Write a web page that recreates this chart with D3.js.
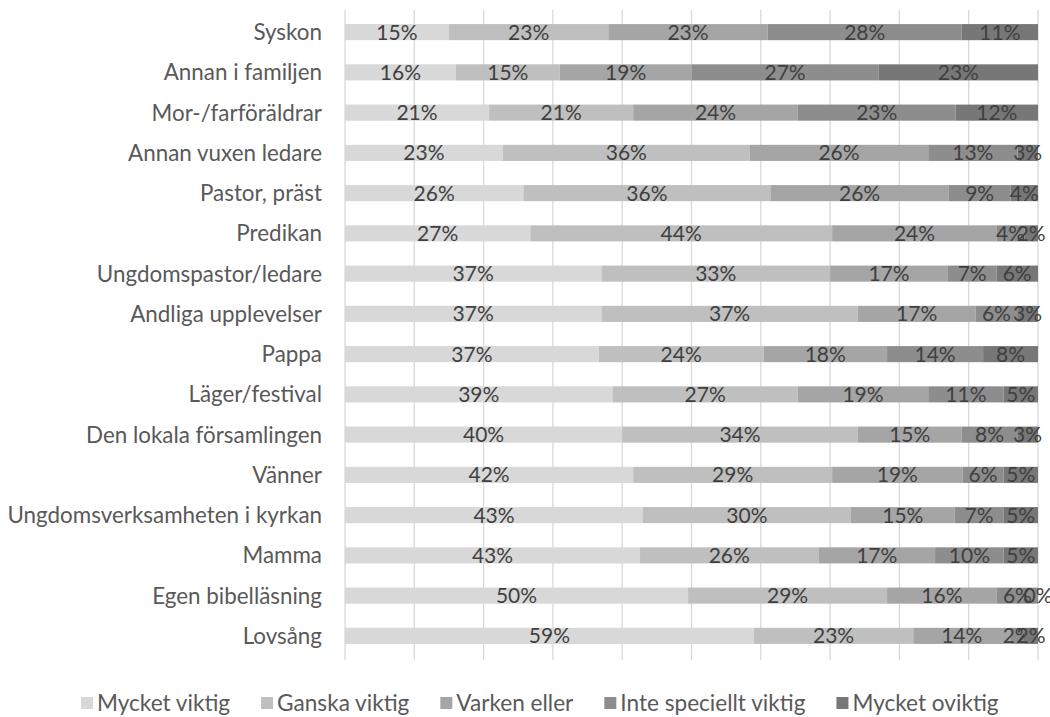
<!DOCTYPE html>
<html>
<head>
<meta charset="utf-8">
<script src="https://cdn.jsdelivr.net/npm/d3@7"></script>
<style>
  body { margin: 0; background: #fff; }
  text { font-family: Lato, "Open Sans", sans-serif; }
</style>
</head>
<body>
<div id="chart"></div>
<script>
// categories, top to bottom
const categories = [
  "Syskon", "Annan i familjen", "Mor-/farföräldrar", "Annan vuxen ledare",
  "Pastor, präst", "Predikan", "Ungdomspastor/ledare", "Andliga upplevelser",
  "Pappa", "Läger/festival", "Den lokala församlingen", "Vänner",
  "Ungdomsverksamheten i kyrkan", "Mamma", "Egen bibelläsning", "Lovsång"
];
const seriesNames = ["Mycket viktig", "Ganska viktig", "Varken eller", "Inte speciellt viktig", "Mycket oviktig"];

// percent values per series, same order as categories
const mycketViktig        = [15, 16, 21, 23, 26, 27, 37, 37, 37, 39, 40, 42, 43, 43, 50, 59];
const ganskaViktig        = [23, 15, 21, 36, 36, 44, 33, 37, 24, 27, 34, 29, 30, 26, 29, 23];
const varkenEller         = [23, 19, 24, 26, 26, 24, 17, 17, 18, 19, 15, 19, 15, 17, 16, 14];
const inteSpecielltViktig = [28, 27, 23, 13, 9, 4, 7, 6, 14, 11, 8, 6, 7, 10, 6, 2];
const mycketOviktig       = [11, 23, 12, 3, 4, 2, 6, 3, 8, 5, 3, 5, 5, 5, 0, 2];

const seriesValues = [mycketViktig, ganskaViktig, varkenEller, inteSpecielltViktig, mycketOviktig];
const colors = ["#d8d8d8", "#bfbfbf", "#a5a5a5", "#8d8d8d", "#777777"];

const width = 1050, height = 717;
const plot = { left: 345, right: 1038, top: 12, bottom: 656 };

const rows = categories.map((c, i) => {
  const r = { category: c };
  seriesNames.forEach((s, j) => r[s] = seriesValues[j][i]);
  return r;
});

const stacked = d3.stack().keys(seriesNames).offset(d3.stackOffsetExpand)(rows);

const x = d3.scaleLinear().domain([0, 1]).range([plot.left, plot.right]);
const y = d3.scaleBand().domain(categories).range([plot.top, plot.bottom])
  .paddingInner(0.6).paddingOuter(0.3);
const color = d3.scaleOrdinal().domain(seriesNames).range(colors);

const svg = d3.select("#chart").append("svg")
  .attr("width", width)
  .attr("height", height);

// vertical gridlines
svg.append("g")
  .selectAll("line")
  .data(x.ticks(10))
  .enter()
  .append("line")
  .attr("x1", d => x(d))
  .attr("x2", d => x(d))
  .attr("y1", plot.top - 2)
  .attr("y2", plot.bottom + 4)
  .attr("stroke", "#d9d9d9")
  .attr("stroke-width", 1.3);

// bars
const layer = svg.append("g")
  .selectAll("g")
  .data(stacked)
  .enter()
  .append("g")
  .attr("fill", d => color(d.key));

layer.selectAll("rect")
  .data(d => d.map(p => ({ key: d.key, p })))
  .enter()
  .append("rect")
  .attr("x", d => x(d.p[0]))
  .attr("y", d => y(d.p.data.category))
  .attr("width", d => x(d.p[1]) - x(d.p[0]))
  .attr("height", y.bandwidth());

// labels inside each segment
layer.selectAll("text")
  .data(d => d.map(p => ({ key: d.key, p })))
  .enter()
  .append("text")
  .text(d => d.p.data[d.key] + "%")
  .attr("x", d => (x(d.p[0]) + x(d.p[1])) / 2)
  .attr("y", d => y(d.p.data.category) + y.bandwidth() / 2)
  .attr("dy", "0.36em")
  .attr("text-anchor", "middle")
  .attr("fill", "#404040")
  .style("font-size", "21px");

// category labels
svg.append("g")
  .selectAll("text")
  .data(categories)
  .enter()
  .append("text")
  .text(d => d)
  .attr("x", 322)
  .attr("y", d => y(d) + y.bandwidth() / 2)
  .attr("dy", "0.36em")
  .attr("text-anchor", "end")
  .attr("fill", "#595959")
  .style("font-size", "22.4px");

// legend
const legend = svg.append("g").attr("transform", "translate(0, 703)");
let lx = 81;
seriesNames.forEach((s, i) => {
  legend.append("rect")
    .attr("x", lx)
    .attr("y", -6)
    .attr("width", 12)
    .attr("height", 12)
    .attr("fill", colors[i]);
  const t = legend.append("text")
    .text(s)
    .attr("x", lx + 16)
    .attr("y", 0)
    .attr("dy", "0.36em")
    .attr("fill", "#595959")
    .style("font-size", "22.6px");
  lx += 16 + t.node().getComputedTextLength() + 31;
});
</script>
</body>
</html>
